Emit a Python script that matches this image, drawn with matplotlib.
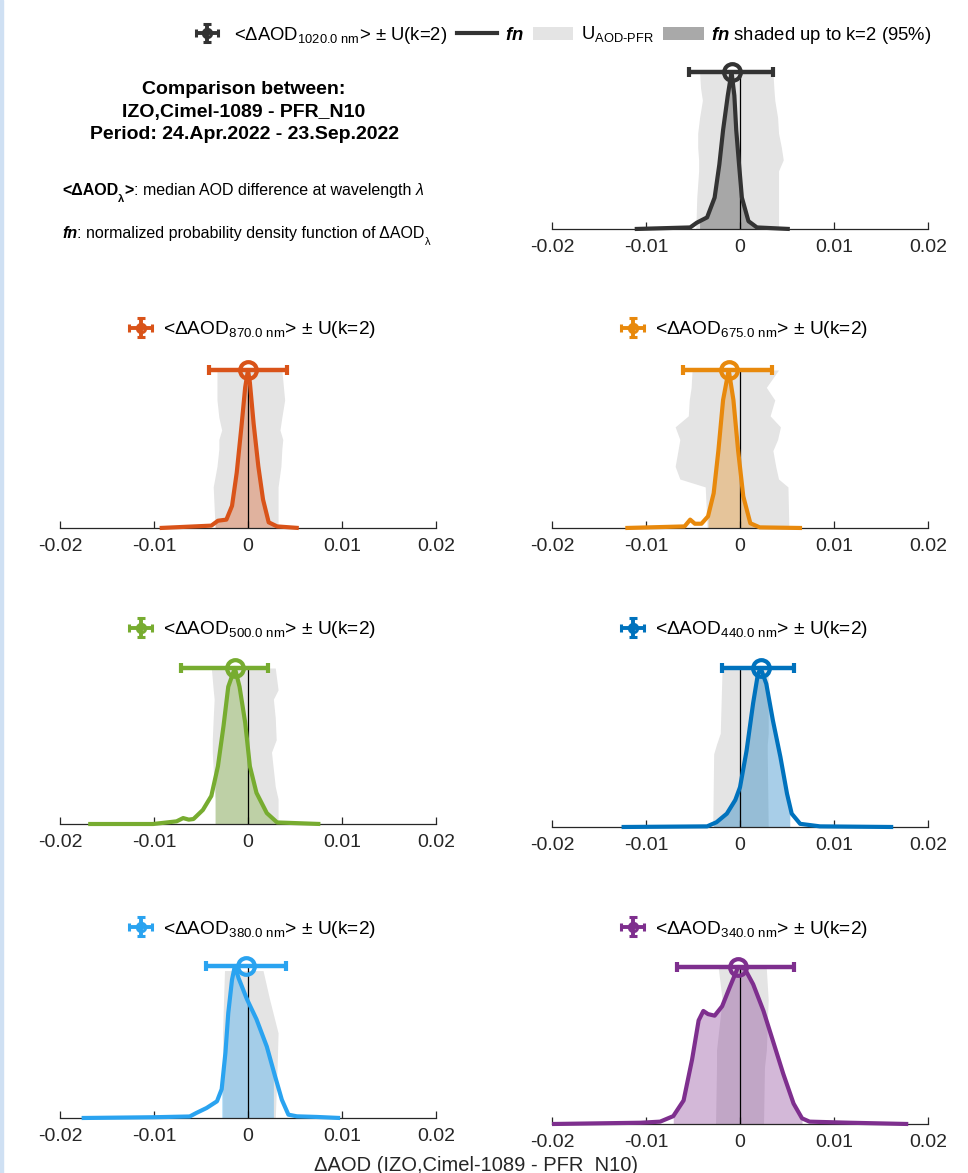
import numpy as np
import matplotlib
matplotlib.use('Agg')
import matplotlib.pyplot as plt
from matplotlib.lines import Line2D
from matplotlib.patches import Patch, Rectangle
from matplotlib.legend_handler import HandlerErrorbar

plt.rcParams['font.family'] = ['Liberation Sans', 'DejaVu Sans']
plt.rcParams['mathtext.fontset'] = 'custom'
plt.rcParams['mathtext.rm'] = 'Liberation Sans'
plt.rcParams['mathtext.it'] = 'Liberation Sans:italic'
plt.rcParams['mathtext.bf'] = 'Liberation Sans:bold'
plt.rcParams['mathtext.bfit'] = 'Liberation Sans:bold:italic'
plt.rcParams['axes.unicode_minus'] = False

# ---------------- data ----------------
wavelengths = ['1020.0', '870.0', '675.0', '500.0', '440.0', '380.0', '340.0']
colors = ['#333333', '#D95319', '#E8890C', '#77AC30', '#0072BD', '#2AA3F0', '#7E2F8E']
medians = [-0.0009, 0.0000, -0.0012, -0.0014, 0.0022, -0.0002, -0.0002]
err_low = [-0.0054, -0.0041, -0.0061, -0.0071, -0.0019, -0.0045, -0.0067]
err_high = [0.0035, 0.0041, 0.0034, 0.0021, 0.0057, 0.0040, 0.0057]
shade_low = [-0.0043, -0.0035, -0.0034, -0.0035, -0.0028, -0.0028, -0.0071]
shade_high = [0.0041, 0.0032, 0.0052, 0.0032, 0.0053, 0.0027, 0.0066]

tick_values = [-0.02, -0.01, 0, 0.01, 0.02]
tick_labels = ['-0.02', '-0.01', '0', '0.01', '0.02']

# normalized pdf (fn) of dAOD for each wavelength
fn_x_1020 = [-0.0112, -0.0053, -0.0046, -0.0035, -0.0027, -0.0022, -0.0018, -0.0013, -0.0009,
             -0.0006, -0.0004, -0.0001, 0.0002, 0.0009, 0.0018, 0.0053]
fn_y_1020 = [0.0, 0.01, 0.04, 0.074, 0.2, 0.41, 0.63, 0.85, 1.0,
             0.85, 0.63, 0.41, 0.2, 0.05, 0.01, 0.0]
fn_x_870 = [-0.0094, -0.0039, -0.0032, -0.0023, -0.0017, -0.0012, -0.0007, -0.0003, 0.0000,
            0.0002, 0.0006, 0.0011, 0.0016, 0.0022, 0.0031, 0.0054]
fn_y_870 = [0.0, 0.015, 0.046, 0.053, 0.14, 0.35, 0.64, 0.89, 1.0,
            0.92, 0.66, 0.39, 0.18, 0.036, 0.01, 0.0]
fn_x_675 = [-0.0122, -0.0059, -0.0053, -0.0048, -0.0041, -0.0034, -0.0028, -0.0023, -0.0018,
            -0.0012, -0.0007, -0.0002, 0.00035, 0.0011, 0.0021, 0.0066]
fn_y_675 = [0.0, 0.01, 0.053, 0.027, 0.027, 0.074, 0.22, 0.49, 0.81,
            1.0, 0.81, 0.49, 0.2, 0.03, 0.004, 0.0]
fn_x_500 = [-0.0170, -0.0101, -0.0076, -0.0069, -0.0063, -0.0058, -0.0048, -0.0039, -0.0032,
            -0.0026, -0.0021, -0.0014, -0.0009, -0.0003, 0.0002, 0.0009, 0.0020, 0.0031, 0.0077]
fn_y_500 = [0.0, 0.0, 0.017, 0.038, 0.028, 0.032, 0.09, 0.18, 0.37,
            0.63, 0.88, 1.0, 0.88, 0.65, 0.37, 0.2, 0.07, 0.01, 0.0]
fn_x_440 = [-0.0126, -0.0035, -0.0025, -0.0014, -0.0005, 0.0000, 0.0007, 0.0014, 0.0019,
            0.0022, 0.0028, 0.0035, 0.0043, 0.0050, 0.0055, 0.0064, 0.0085, 0.0163]
fn_y_440 = [0.0, 0.004, 0.03, 0.084, 0.17, 0.25, 0.48, 0.78, 0.96,
            1.0, 0.9, 0.67, 0.44, 0.21, 0.084, 0.02, 0.004, 0.0]
fn_x_380 = [-0.0177, -0.0101, -0.0062, -0.0055, -0.0044, -0.0033, -0.0028, -0.0024, -0.0021,
            -0.0017, -0.0014, -0.0010, -0.0001, 0.0009, 0.0020, 0.0029, 0.0036, 0.0043,
            0.0052, 0.0073, 0.0098]
fn_y_380 = [0.0, 0.005, 0.01, 0.033, 0.066, 0.11, 0.19, 0.43, 0.69,
            0.91, 1.0, 0.92, 0.78, 0.65, 0.47, 0.27, 0.12, 0.022,
            0.011, 0.007, 0.0]
fn_x_340 = [-0.0200, -0.0106, -0.0085, -0.0071, -0.0060, -0.0051, -0.0044, -0.0039, -0.0034,
            -0.0027, -0.0019, -0.0011, -0.0002, 0.0005, 0.0014, 0.0025, 0.0035, 0.0046,
            0.0057, 0.0066, 0.0074, 0.0117, 0.0179]
fn_y_340 = [0.0, 0.008, 0.015, 0.05, 0.15, 0.41, 0.66, 0.72, 0.70,
            0.69, 0.75, 0.87, 1.0, 0.99, 0.89, 0.72, 0.53, 0.32,
            0.13, 0.036, 0.015, 0.008, 0.0]

# U_AOD-PFR uncertainty band (edges vs. fn level)
band_y_1020 = [0.0, 0.2, 0.37, 0.44, 0.52, 0.61, 0.71, 0.82, 0.9, 1.0]
band_l_1020 = [-0.0047, -0.0046, -0.0044, -0.0044, -0.0045, -0.0045, -0.0043, -0.0040, -0.0042, -0.0043]
band_r_1020 = [0.0041, 0.0041, 0.0041, 0.0046, 0.0044, 0.0041, 0.0040, 0.0037, 0.0036, 0.0035]
band_y_870 = [0.0, 0.26, 0.39, 0.5, 0.56, 0.62, 0.7, 0.81, 1.0]
band_l_870 = [-0.0035, -0.0037, -0.0033, -0.0031, -0.0031, -0.0028, -0.0031, -0.0033, -0.0033]
band_r_870 = [0.0032, 0.0032, 0.0035, 0.0036, 0.0037, 0.0034, 0.0036, 0.0039, 0.0036]
band_y_675 = [0.0, 0.26, 0.31, 0.39, 0.49, 0.56, 0.64, 0.71, 0.81, 0.89, 1.0]
band_l_675 = [-0.0035, -0.0037, -0.0064, -0.0069, -0.0066, -0.0064, -0.0069, -0.0055, -0.0054, -0.0052, -0.0051]
band_r_675 = [0.0052, 0.0051, 0.0041, 0.0038, 0.0035, 0.0040, 0.0043, 0.0032, 0.0037, 0.0028, 0.0041]
band_y_500 = [0.0, 0.16, 0.24, 0.46, 0.54, 0.68, 0.8, 0.86, 1.0]
band_l_500 = [-0.0035, -0.0035, -0.0036, -0.0038, -0.0038, -0.0037, -0.0036, -0.0037, -0.0039]
band_r_500 = [0.0032, 0.0032, 0.0029, 0.0025, 0.0030, 0.0029, 0.0027, 0.0032, 0.0029]
band_y_440 = [0.0, 0.46, 0.52, 0.59, 0.8, 1.0]
band_l_440 = [-0.0029, -0.0028, -0.0025, -0.0021, -0.0020, -0.0019]
band_r_440 = [0.0030, 0.0029, 0.0029, 0.0030, 0.0030, 0.0030]
band_y_380 = [0.0, 0.34, 0.56, 0.78, 0.97]
band_l_380 = [-0.0027, -0.0027, -0.0027, -0.0026, -0.0025]
band_r_380 = [0.0029, 0.0031, 0.0032, 0.0023, 0.0016]
band_y_340 = [0.0, 0.36, 0.47, 0.79, 0.99]
band_l_340 = [-0.0026, -0.0025, -0.0025, -0.0019, -0.0023]
band_r_340 = [0.0025, 0.0026, 0.0028, 0.0030, 0.0028]

fn_x = [fn_x_1020, fn_x_870, fn_x_675, fn_x_500, fn_x_440, fn_x_380, fn_x_340]
fn_y = [fn_y_1020, fn_y_870, fn_y_675, fn_y_500, fn_y_440, fn_y_380, fn_y_340]
band_y = [band_y_1020, band_y_870, band_y_675, band_y_500, band_y_440, band_y_380, band_y_340]
band_l = [band_l_1020, band_l_870, band_l_675, band_l_500, band_l_440, band_l_380, band_l_340]
band_r = [band_r_1020, band_r_870, band_r_675, band_r_500, band_r_440, band_r_380, band_r_340]

# ---------------- layout (pixels) ----------------
W, H = 968, 1173
DPI = 100
YTOP = 1.12
# (x of -0.02, x of 0.02, baseline y, px per unit, legend centre y)
layout = [(552, 928, 229, 157, None),
          (60, 436, 528, 158, 330),
          (552, 928, 528, 158, 330),
          (60, 436, 824, 156, 630),
          (552, 928, 827, 159, 630),
          (60, 436, 1118, 152, 929),
          (552, 928, 1124, 157, 929)]

BAND_C = '#e4e4e4'
AXC = '#262626'
LEGFS = 13.8
EB_HANDLER = HandlerErrorbar(xerr_size=0.6, yerr_size=0.5)

fig = plt.figure(figsize=(W / DPI, H / DPI), dpi=DPI)
fig.patches.append(Rectangle((0, 0), 3 / W, 1, transform=fig.transFigure,
                             color='#cfe0f3', zorder=0))


def eb_label(wl):
    return '<ΔAOD$_{\\mathrm{' + wl + '\\ nm}}$> ± U(k=2)'


def err_proxy(ax, c):
    return ax.errorbar([np.nan], [np.nan], xerr=[1.0], yerr=[1.0], fmt='o', color=c,
                       mfc='none', mec=c, ms=6, mew=2.2, elinewidth=2.8,
                       capsize=3, capthick=2.5)


for i, (x0, x1, base, unit, legy) in enumerate(layout):
    c = colors[i]
    ax = fig.add_axes([x0 / W, 1 - base / H, (x1 - x0) / W, unit * YTOP / H])
    ax.set_xlim(-0.02, 0.02)
    ax.set_ylim(0, YTOP)
    for s in ('left', 'right', 'top'):
        ax.spines[s].set_visible(False)
    ax.spines['bottom'].set_color(AXC)
    ax.spines['bottom'].set_linewidth(0.9)
    ax.set_yticks([])
    ax.set_xticks(tick_values)
    ax.set_xticklabels(tick_labels)
    ax.tick_params(axis='x', direction='in', length=5, width=0.9, color=AXC,
                   labelcolor=AXC, labelsize=14, pad=7)
    ax.patch.set_alpha(0)

    x = np.asarray(fn_x[i])
    y = np.asarray(fn_y[i])
    # uncertainty band
    ax.fill_betweenx(band_y[i], band_l[i], band_r[i], color=BAND_C, lw=0, zorder=1)
    # fn shaded up to k=2
    lo, hi = shade_low[i], shade_high[i]
    inside = (x > lo) & (x < hi)
    xs = np.concatenate([[lo], x[inside], [hi]])
    ys = np.concatenate([[np.interp(lo, x, y)], y[inside], [np.interp(hi, x, y)]])
    ax.fill_between(xs, 0, ys, color=c, alpha=0.34, lw=0, zorder=2)
    # zero line
    ax.vlines(0, 0, 1, color='k', lw=0.9, zorder=3)
    # fn curve
    ax.plot(x, y, color=c, lw=3, solid_joinstyle='round', solid_capstyle='butt',
            clip_on=False, zorder=4)
    # median +/- U(k=2)
    med = medians[i]
    ax.errorbar([med], [1.0], xerr=[[med - err_low[i]], [err_high[i] - med]], fmt='o',
                color=c, mfc='none', mec=c, ms=12, mew=3, elinewidth=3.2,
                capsize=3.5, capthick=3.2, clip_on=False, zorder=6)

    if legy is not None:
        h = err_proxy(ax, c)
        cx = ((x0 + x1) / 2 + 4) / W
        ax.legend(handles=[h], labels=[eb_label(wavelengths[i])], loc='center',
                  bbox_to_anchor=(cx, 1 - legy / H), bbox_transform=fig.transFigure,
                  frameon=False, fontsize=LEGFS, handlelength=1.3, handletextpad=0.5,
                  borderpad=0, borderaxespad=0, handler_map={type(h): EB_HANDLER})
    else:
        top_ax = ax

# ---------------- main legend ----------------
h0 = err_proxy(top_ax, colors[0])
handles = [h0,
           Line2D([], [], color=colors[0], lw=3),
           Patch(facecolor=BAND_C, edgecolor='none'),
           Patch(facecolor='#a9a9a9', edgecolor='none')]
labels = [eb_label(wavelengths[0]),
          '$\\mathbfit{fn}$',
          'U$_{\\mathrm{AOD\\text{-}PFR}}$',
          '$\\mathbfit{fn}$ shaded up to k=2 (95%)']
fig.legend(handles=handles, labels=labels, loc='center', ncol=4,
           bbox_to_anchor=(559 / W, 1 - 35 / H), frameon=False, fontsize=13.3,
           handlelength=2.2, handletextpad=0.4, columnspacing=0.5, borderpad=0,
           handler_map={type(h0): EB_HANDLER})

# ---------------- text block ----------------
fig.text(244 / W, 1 - 112 / H,
         'Comparison between:\nIZO,Cimel-1089 - PFR_N10\nPeriod: 24.Apr.2022 - 23.Sep.2022',
         ha='center', va='center', fontsize=14, fontweight='bold', linespacing=1.42)

NFS = 11.5


def after(prev, txt, dy=0, **kw):
    return fig.axes[0].annotate(txt, xy=(1, 0), xycoords=prev, xytext=(0, dy),
                                textcoords='offset points', ha='left', va='bottom',
                                annotation_clip=False, **kw)


t1 = fig.text(62 / W, 1 - 198 / H, '<ΔAOD', fontsize=NFS, fontweight='bold',
              ha='left', va='bottom')
t2 = after(t1, 'λ', dy=-4, fontsize=NFS * 0.7, fontweight='bold')
t3 = after(t2, '>', dy=4, fontsize=NFS, fontweight='bold')
t4 = after(t3, ': median AOD difference at wavelength ', fontsize=NFS)
t5 = after(t4, 'λ', fontsize=NFS, fontstyle='italic')

u1 = fig.text(62 / W, 1 - 241 / H, 'fn', fontsize=NFS, fontweight='bold',
              fontstyle='italic', ha='left', va='bottom')
u2 = after(u1, ': normalized probability density function of ΔAOD', fontsize=NFS)
u3 = after(u2, 'λ', dy=-4, fontsize=NFS * 0.7)

# x label
fig.text(476 / W, 1 - 1171 / H, 'ΔAOD (IZO,Cimel-1089 - PFR_N10)', ha='center',
         va='baseline', fontsize=14.5, color=AXC)

fig.savefig('out.png', dpi=DPI)
